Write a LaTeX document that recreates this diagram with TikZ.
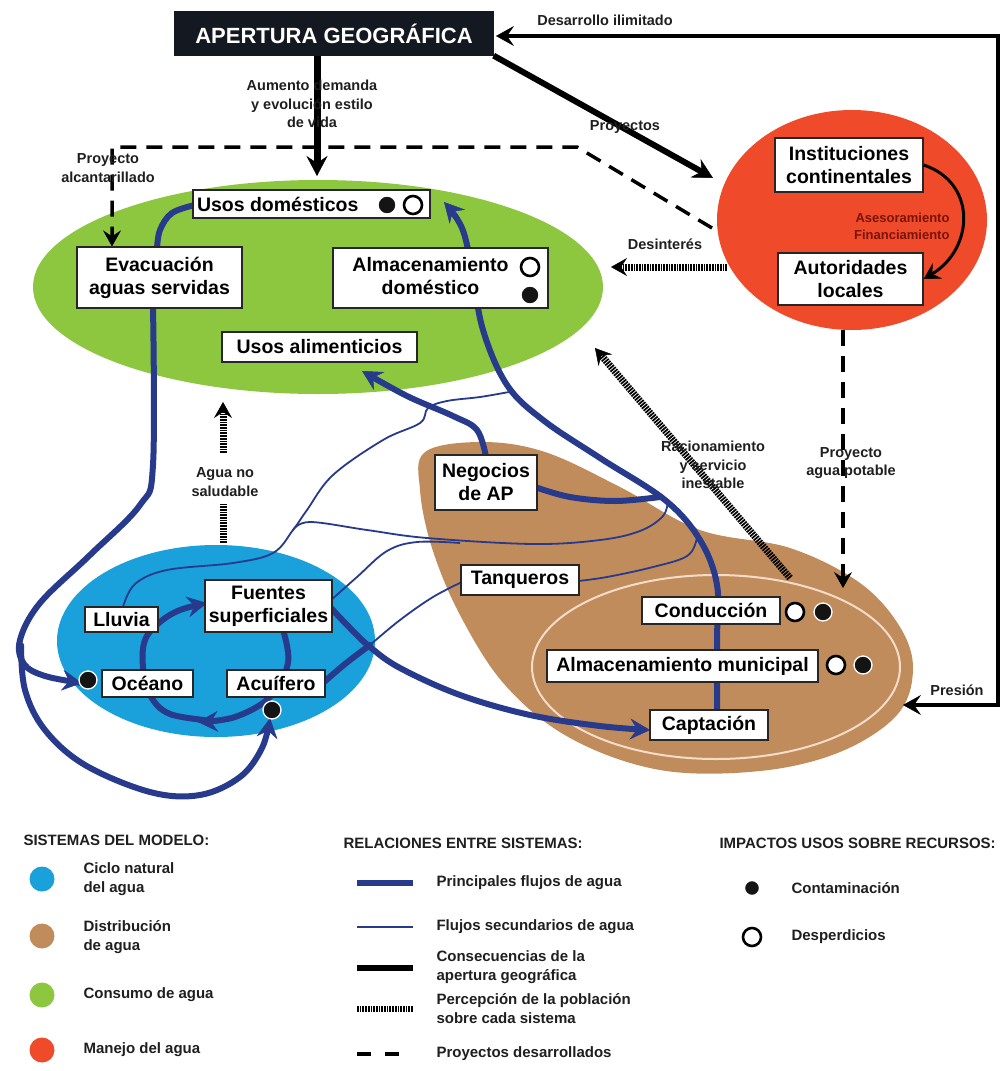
\documentclass[tikz,border=0pt]{standalone}
\usepackage{fontspec}
\setmainfont{Liberation Sans}
\usetikzlibrary{arrows.meta}
\definecolor{cgreen}{HTML}{8DC63F}
\definecolor{cblue}{HTML}{1AA0DA}
\definecolor{cbrown}{HTML}{C18C5C}
\definecolor{cred}{HTML}{EF4B2B}
\definecolor{navy}{HTML}{273A8C}
\definecolor{titlebg}{HTML}{141820}
\definecolor{darkred}{HTML}{7A1408}
\definecolor{innerpink}{HTML}{F4DCCB}
\tikzset{
  box/.style={draw=black!85, line width=1.3pt, fill=white, inner sep=4pt,
    font=\bfseries\fontsize{19.5}{23}\selectfont, align=center},
  lbl/.style={font=\bfseries\fontsize{14.5}{18.5}\selectfont, align=center, text=black!88},
  leg/.style={font=\bfseries\fontsize{15}{19}\selectfont, align=left, anchor=west, text=black!88},
  mainflow/.style={draw=navy, line width=6pt, line cap=round},
  secflow/.style={draw=navy, line width=1.8pt},
  blk/.style={draw=black, line width=6pt},
  proj/.style={draw=black, line width=3.5pt, dash pattern=on 16pt off 10pt},
  percep/.style={draw=black, line width=7pt, dash pattern=on 1.7pt off 1pt},
  ahead/.style={-{Stealth[length=20pt,width=21pt,inset=7pt,line width=0.5pt]}},
  shead/.style={-{Stealth[length=16pt,width=18pt,inset=6pt,line width=0.5pt]}},
  fdot/.style={circle, fill=black!92, draw=white, line width=1.3pt, minimum size=18pt, inner sep=0pt},
  odot/.style={circle, fill=white, draw=black, line width=2.6pt, minimum size=18pt, inner sep=0pt},
  legdot/.style={circle, minimum size=25pt, inner sep=0pt}
}
\begin{document}
\begin{tikzpicture}[x=1pt,y=-1pt]
\useasboundingbox (0,0) rectangle (1005,1071);
\fill[white] (0,0) rectangle (1005,1071);

% ---------- system areas ----------
\fill[cbrown] plot[smooth cycle, tension=0.6] coordinates {(425,452) (482,442) (545,452) (620,487) (700,530) (790,548) (860,583) (900,627) (913,670) (897,715) (840,752) (760,771) (660,770) (570,738) (505,685) (460,615) (432,548) (420,490)};
\draw[innerpink, line width=2pt] (716,667) ellipse [x radius=184, y radius=92];
\fill[cgreen] (318,287) ellipse [x radius=285, y radius=107];
\fill[cblue] (216,641) ellipse [x radius=159, y radius=96];
\fill[cred] (852,220) ellipse [x radius=135, y radius=110];

% ---------- flows (drawn under boxes) ----------
% main conduction line
\draw[mainflow, ahead] plot[smooth, tension=0.6] coordinates {(717,712) (717,640) (717,585) (700,540) (665,500) (600,458) (543,420) (507,385) (483,330) (472,270) (462,228) (444,202)};
% Negocios <- conduction
\draw[mainflow] plot[smooth, tension=0.6] coordinates {(535,487) (570,497) (615,501) (660,497)};
% Negocios -> usos alimenticios
\draw[mainflow, ahead] plot[smooth, tension=0.6] coordinates {(486,457) (477,430) (453,416) (407,396) (362,371)};
% evacuacion - usos domesticos
\draw[mainflow] plot[smooth, tension=0.6] coordinates {(157,249) (160,230) (172,213) (195,205)};
% evacuacion -> oceano
\draw[mainflow, ahead] plot[smooth, tension=0.6] coordinates {(153,306) (153,465) (140,505) (90,555) (40,603) (20,640) (24,664) (45,676) (82,683)};
% evacuacion -> acuifero
\draw[mainflow, ahead] plot[smooth, tension=0.6] coordinates {(21,645) (25,690) (45,730) (85,765) (150,792) (200,795) (240,777) (262,748) (270,718)};
% fuentes -> captacion
\draw[mainflow, ahead] plot[smooth, tension=0.6] coordinates {(330,607) (350,628) (370,647) (400,668) (460,695) (530,715) (600,726) (650,730)};
% acuifero -> flow
\draw[mainflow] plot[smooth, tension=0.6] coordinates {(323,683) (345,664) (370,645)};
% natural cycle
\draw[mainflow, ahead] plot[smooth, tension=0.6] coordinates {(215,721) (170,714) (150,695) (143,667) (145,640) (160,622) (180,610) (207,603)};
\draw[mainflow, ahead] plot[smooth, tension=0.6] coordinates {(283,630) (288,663) (270,697) (235,717) (198,722)};
% secondary flows
\draw[secflow] plot[smooth, tension=0.6] coordinates {(123,607) (135,584) (167,570) (233,563) (273,553) (293,530) (307,510) (333,475) (383,440) (420,423) (428,408) (447,401) (480,397) (509,392)};
\draw[secflow] plot[smooth, tension=0.6] coordinates {(293,530) (310,522) (367,530) (427,538) (533,544) (600,540) (640,531) (663,516) (668,500)};
\draw[secflow] plot[smooth, tension=0.6] coordinates {(330,601) (357,577) (387,551) (417,542) (460,543)};
\draw[secflow] plot[smooth, tension=0.6] coordinates {(370,645) (400,620) (433,597) (462,582)};
\draw[secflow] plot[smooth, tension=0.6] coordinates {(578,581) (607,577) (653,567) (687,556) (697,538) (695,528)};

% ---------- nodes ----------
\node[box, fill=titlebg, draw=titlebg, text=white, minimum width=318pt, minimum height=43pt,
  font=\bfseries\fontsize{22}{26}\selectfont] (title) at (334,33.5) {APERTURA GEOGRÁFICA};
\node[box, minimum width=237pt, minimum height=28pt] (usos) at (311.5,204) {\makebox[229pt][l]{Usos domésticos}};
\node[box, minimum width=165pt, minimum height=61pt] (evac) at (159.5,277.5) {Evacuación\\aguas servidas};
\node[box, minimum width=215pt, minimum height=60pt] (almdom) at (440.5,278) {\begin{tabular}{@{}c@{}}Almacenamiento\\doméstico\end{tabular}\hspace{20pt}};
\node[box, minimum width=195pt, minimum height=30pt] (alim) at (319.5,347) {Usos alimenticios};
\node[box, minimum width=148pt, minimum height=54pt] (inst) at (849,165) {Instituciones\\continentales};
\node[box, minimum width=145pt, minimum height=52pt] (auto) at (850.5,279) {Autoridades\\locales};
\node[box, minimum width=73pt, minimum height=25pt] (lluvia) at (121.5,619.5) {Lluvia};
\node[box, minimum width=127pt, minimum height=52pt] (fuentes) at (268.5,606) {Fuentes\\superficiales};
\node[box, minimum width=91pt, minimum height=27pt] (oceano) at (147.5,683.5) {Océano};
\node[box, minimum width=98pt, minimum height=27pt] (acuifero) at (276,683.5) {Acuífero};
\node[box, minimum width=102pt, minimum height=55pt] (negocios) at (486,482.5) {Negocios\\de AP};
\node[box, minimum width=118pt, minimum height=30pt] (tanq) at (520,580) {Tanqueros};
\node[box, minimum width=138pt, minimum height=27pt] (cond) at (711,610.5) {Conducción};
\node[box, minimum width=271pt, minimum height=32pt] (almmun) at (682.5,666) {Almacenamiento municipal};
\node[box, minimum width=118pt, minimum height=30pt] (capt) at (709,725) {Captación};

% ---------- impact dots ----------
\node[fdot] (dU1) at (387,205) {};
\node[odot] (dU2) at (413,205) {};
\node[odot] (dA1) at (530,267) {};
\node[fdot] (dA2) at (530,295) {};
\node[odot] (dC1) at (795,612) {};
\node[fdot] (dC2) at (823,612) {};
\node[odot] (dM1) at (836,665) {};
\node[fdot] (dM2) at (863,665) {};
\node[fdot] (dO) at (88,680) {};
\node[fdot] (dQ) at (272,710) {};

% ---------- black consequences ----------
\coordinate (aumtip) at (317,176);
\draw[blk, line width=7pt, ahead] (title.south -| aumtip) -- (aumtip);
\coordinate (proytip) at (713,178);
\draw[blk, ahead] (title.south east) -- (proytip);
\coordinate (prestip) at (903,705);
\coordinate (dtip) at (496,36);
\draw[blk, line width=4.5pt, {Stealth[length=18pt,width=20pt,inset=7pt,line width=0.5pt]}-{Stealth[length=18pt,width=20pt,inset=7pt,line width=0.5pt]}] (prestip) -- (998,705) -- (998,36) -- (dtip);
\draw[black, line width=3pt, shead] (inst.east) .. controls +(54,18) and +(50,-30) .. (auto.east);

% ---------- projects (dashed) ----------
\coordinate (pa1) at (712,228);
\coordinate (pa2) at (577,147);
\coordinate (pa3) at (112,147);
\draw[proj, shead] (pa1) -- (pa2) -- (pa3) -- (evac.north -| pa3);
\coordinate (pw1) at (843,330);
\coordinate (pw2) at (843,588);
\draw[proj, shead] (pw1) -- (pw2);

% ---------- perception (hatched) ----------
\coordinate (ds1) at (727,267);
\coordinate (ds2) at (611,267);
\draw[percep, shead] (ds1) -- (ds2);
\coordinate (rs1) at (790,578);
\coordinate (rs2) at (595,348);
\draw[percep, shead] (rs1) -- (rs2);
\coordinate (as1) at (223,543);
\coordinate (as2) at (223,503);
\coordinate (as3) at (223,453);
\coordinate (as4) at (223,402);
\draw[percep] (as1) -- (as2);
\draw[percep, shead] (as3) -- (as4);

% ---------- labels ----------
\node[lbl] (lDes) at (605,20) {Desarrollo ilimitado};
\node[lbl] (lAum) at (312,104) {Aumento demanda\\y evolución estilo\\de vida};
\node[lbl] (lPro) at (625,127) {Proyectos};
\node[lbl] (lAlc) at (108,168) {Proyecto\\alcantarillado};
\node[lbl] (lDin) at (665,244) {Desinterés};
\node[lbl, anchor=east, text=darkred, font=\bfseries\fontsize{13}{17}\selectfont, align=right] (lAse) at (953,226) {Asesoramiento\\Financiamiento};
\node[lbl] (lRac) at (713,465) {Racionamiento\\y servicio\\inestable};
\node[lbl] (lPap) at (851,463) {Proyecto\\agua potable};
\node[lbl] (lAgu) at (225,482) {Agua no\\saludable};
\node[lbl] (lPre) at (957,690) {Presión};

% ---------- legend ----------
\node[leg] (h1) at (20,840) {SISTEMAS DEL MODELO:};
\node[leg] (h2) at (340,843) {RELACIONES ENTRE SISTEMAS:};
\node[leg] (h3) at (716,843) {IMPACTOS USOS SOBRE RECURSOS:};

\node[legdot, fill=cblue] (g1) at (42,879) {};
\node[leg] (t1) at (80,879) {Ciclo natural\\del agua};
\node[legdot, fill=cbrown] (g2) at (42,936) {};
\node[leg] (t2) at (80,937) {Distribución\\de agua};
\node[legdot, fill=cgreen] (g3) at (42,995) {};
\node[leg] (t3) at (80,995) {Consumo de agua};
\node[legdot, fill=cred] (g4) at (42,1050) {};
\node[leg] (t4) at (80,1050) {Manejo del agua};

\coordinate (r1a) at (357,883); \coordinate (r1b) at (413,883);
\draw[draw=navy, line width=6pt] (r1a) -- (r1b);
\node[leg] (u1) at (433,883) {Principales flujos de agua};
\coordinate (r2a) at (357,927); \coordinate (r2b) at (413,927);
\draw[draw=navy, line width=2pt] (r2a) -- (r2b);
\node[leg] (u2) at (433,927) {Flujos secundarios de agua};
\coordinate (r3a) at (357,968); \coordinate (r3b) at (413,968);
\draw[black, line width=6pt] (r3a) -- (r3b);
\node[leg] (u3) at (433,967) {Consecuencias de la\\apertura geográfica};
\coordinate (r4a) at (357,1009); \coordinate (r4b) at (413,1009);
\draw[percep, line width=6pt] (r4a) -- (r4b);
\node[leg] (u4) at (433,1009) {Percepción de la población\\sobre cada sistema};
\coordinate (r5a) at (357,1054); \coordinate (r5b) at (413,1054);
\draw[black, line width=4pt, dash pattern=on 14pt off 14pt] (r5a) -- (r5b);
\node[leg] (u5) at (433,1054) {Proyectos desarrollados};

\node[fdot, minimum size=15pt] (i1) at (752,888) {};
\node[leg] (v1) at (788,888) {Contaminación};
\node[odot, minimum size=18pt] (i2) at (752,937) {};
\node[leg] (v2) at (788,937) {Desperdicios};
\end{tikzpicture}
\end{document}
